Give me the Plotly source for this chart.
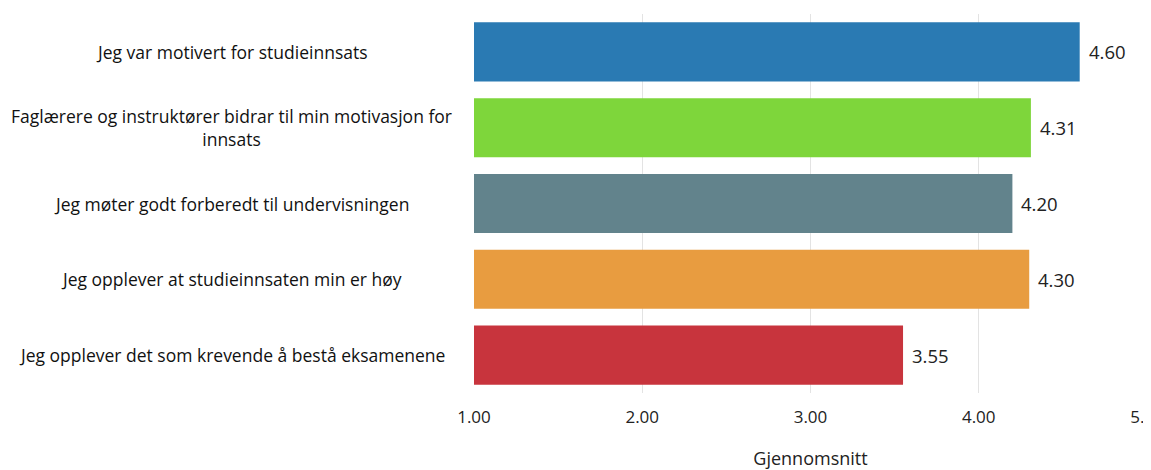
import plotly.graph_objects as go

categories = [
    "Jeg var motivert for studieinnsats",
    "Faglærere og instruktører bidrar til min motivasjon for<br>innsats",
    "Jeg møter godt forberedt til undervisningen",
    "Jeg opplever at studieinnsaten min er høy",
    "Jeg opplever det som krevende å bestå eksamenene",
]
values = [4.60, 4.31, 4.20, 4.30, 3.55]
colors = ["#2a7ab3", "#7ed63b", "#62838c", "#e89c40", "#c8343d"]
tick_vals = [1, 2, 3, 4, 5]
tick_text = ["1.00", "2.00", "3.00", "4.00", "5.00"]

font_name = "Open Sans"

fig = go.Figure()
fig.add_trace(go.Bar(
    y=categories,
    x=values,
    orientation="h",
    marker=dict(color=colors, line=dict(width=0)),
    width=0.78,
    showlegend=False,
))

# centred category labels on the left
for cat in categories:
    fig.add_annotation(
        x=-0.36, xref="paper", y=cat, yref="y",
        text=cat, showarrow=False, xanchor="center", align="center",
        font=dict(family=font_name, size=17.5, color="#111111"),
    )

# value labels right of each bar
for cat, v in zip(categories, values):
    fig.add_annotation(
        x=v, xref="x", y=cat, yref="y",
        text=f"{v:.2f}", showarrow=False, xanchor="left", xshift=7,
        font=dict(family=font_name, size=18.5, color="#222222"),
    )

fig.update_layout(
    width=1151, height=470,
    margin=dict(l=466, r=12, t=6, b=85),
    plot_bgcolor="white", paper_bgcolor="white",
    xaxis=dict(
        range=[1, 5],
        automargin=False,
        tickvals=tick_vals, ticktext=tick_text,
        ticklabeloverflow="allow",
        showgrid=True, gridcolor="#e3e3e3", gridwidth=1,
        zeroline=False, showline=False,
        ticks="outside", ticklen=9, tickcolor="white",
        tickfont=dict(family=font_name, size=17, color="#222222"),
        title=dict(text="Gjennomsnitt", standoff=24,
                   font=dict(family=font_name, size=18, color="#222222")),
    ),
    yaxis=dict(
        autorange="reversed",
        showticklabels=False, showgrid=False, zeroline=False,
    ),
)

fig.write_html("out.html")
